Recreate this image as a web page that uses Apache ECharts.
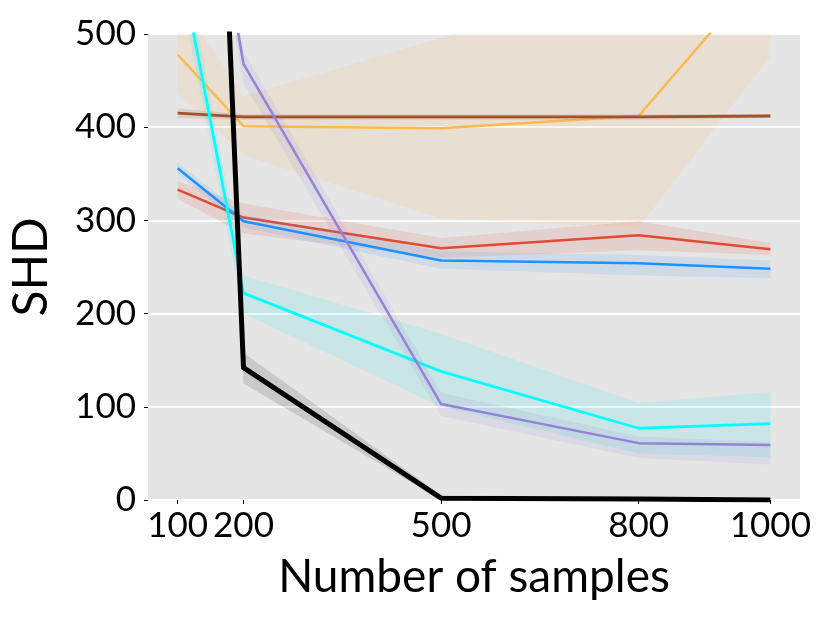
<!DOCTYPE html>
<html>
<head>
<meta charset="utf-8">
<script src="https://cdn.jsdelivr.net/npm/echarts@6/dist/echarts.min.js"></script>
<style>html,body{margin:0;padding:0;background:#fff}#c{width:830px;height:623px}</style>
</head>
<body>
<div id="c"></div>
<script>
const samples = [100, 200, 500, 800, 1000];
const xTicks = [100, 200, 500, 800, 1000];
const yTicks = [0, 100, 200, 300, 400, 500];

const orangeMean = [478, 401, 399, 412, 576];
const orangeLow  = [437, 370, 302, 292, 476];
const orangeHigh = [540, 433, 496, 560, 700];

const brownMean = [415, 411, 411, 411, 412];
const brownLow  = [410, 408, 408, 408, 410];
const brownHigh = [420, 414, 414, 414, 414];

const redMean = [333, 303, 270, 284, 269];
const redLow  = [323, 286, 260, 268, 263];
const redHigh = [342, 318, 281, 299, 276];

const blueMean = [356, 299, 257, 254, 248];
const blueLow  = [350, 292, 248, 241, 238];
const blueHigh = [362, 306, 267, 263, 257];

const cyanMean = [590, 222, 138, 77, 82];
const cyanLow  = [560, 200, 100, 50, 46];
const cyanHigh = [620, 241, 178, 104, 116];

const purpleMean = [880, 468, 103, 61, 59];
const purpleLow  = [850, 447, 90, 45, 38];
const purpleHigh = [910, 482, 115, 68, 62];

const blackMean = [1830, 142, 2, 1, 0];
const blackLow  = [1780, 125, 0, 0, 0];
const blackHigh = [1880, 158, 5, 3, 2];

const FONT = 'Lato';

const groups = [
  {name:'orange', color:'#FFB84D', band:'rgba(255,190,100,0.14)', mean:orangeMean, low:orangeLow, high:orangeHigh, w:2.5},
  {name:'brown', color:'#A0522D', band:'rgba(160,82,45,0.15)', mean:brownMean, low:brownLow, high:brownHigh, w:2.8},
  {name:'red', color:'#E24A33', band:'rgba(226,74,51,0.13)', mean:redMean, low:redLow, high:redHigh, w:2.5},
  {name:'blue', color:'#1E90FF', band:'rgba(30,144,255,0.11)', mean:blueMean, low:blueLow, high:blueHigh, w:2.5},
  {name:'cyan', color:'#00FFFF', band:'rgba(0,230,230,0.12)', mean:cyanMean, low:cyanLow, high:cyanHigh, w:2.8},
  {name:'purple', color:'#9482D8', band:'rgba(147,130,219,0.12)', mean:purpleMean, low:purpleLow, high:purpleHigh, w:2.5},
  {name:'black', color:'#000000', band:'rgba(0,0,0,0.12)', mean:blackMean, low:blackLow, high:blackHigh, w:5}
];

const series = [];
groups.forEach((g, gi) => {
  const bandData = samples.map((x, i) => [x, g.low[i], g.high[i]]);
  series.push({
    type: 'custom',
    name: g.name + ' band',
    clip: true,
    z: 2 + gi * 2,
    silent: true,
    data: bandData,
    encode: {x: 0, y: [1, 2]},
    renderItem: function (params, api) {
      if (params.dataIndex !== 0) return null;
      const up = [], lo = [];
      for (let i = 0; i < bandData.length; i++) {
        up.push(api.coord([bandData[i][0], bandData[i][2]]));
        lo.unshift(api.coord([bandData[i][0], bandData[i][1]]));
      }
      return {
        type: 'polygon',
        shape: {points: up.concat(lo)},
        style: {fill: g.band, stroke: null}
      };
    }
  });
  series.push({
    type: 'line',
    name: g.name,
    z: 3 + gi * 2,
    clip: true,
    symbol: 'none',
    data: samples.map((x, i) => [x, g.mean[i]]),
    lineStyle: {color: g.color, width: g.w, join: 'round'},
    itemStyle: {color: g.color}
  });
});

const chart = echarts.init(document.getElementById('c'), null, {renderer: 'canvas'});
chart.setOption({
  animation: false,
  backgroundColor: '#ffffff',
  grid: {left: 148, right: 30, top: 34, bottom: 123, show: true, backgroundColor: '#e5e5e5', borderWidth: 0},
  xAxis: {
    type: 'value', min: 55, max: 1045,
    name: 'Number of samples', nameLocation: 'middle', nameGap: 54,
    nameTextStyle: {fontFamily: FONT, fontSize: 46, color: '#000'},
    axisLine: {show: false},
    axisTick: {show: true, length: 4, customValues: xTicks, lineStyle: {color: '#000', width: 1}},
    axisLabel: {customValues: xTicks, fontFamily: FONT, fontSize: 35, color: '#000', margin: 8,
      formatter: function (v) { return String(v); }},
    splitLine: {show: false}
  },
  yAxis: {
    type: 'value', min: 0, max: 500, interval: 100,
    name: 'SHD', nameLocation: 'middle', nameGap: 92,
    nameTextStyle: {fontFamily: FONT, fontSize: 48, color: '#000'},
    axisLine: {show: false},
    axisTick: {show: true, length: 4, lineStyle: {color: '#000', width: 1}},
    axisLabel: {fontFamily: FONT, fontSize: 35, color: '#000', margin: 12},
    splitLine: {show: true, lineStyle: {color: '#ffffff', width: 2}}
  },
  series: series
});
</script>
</body>
</html>
